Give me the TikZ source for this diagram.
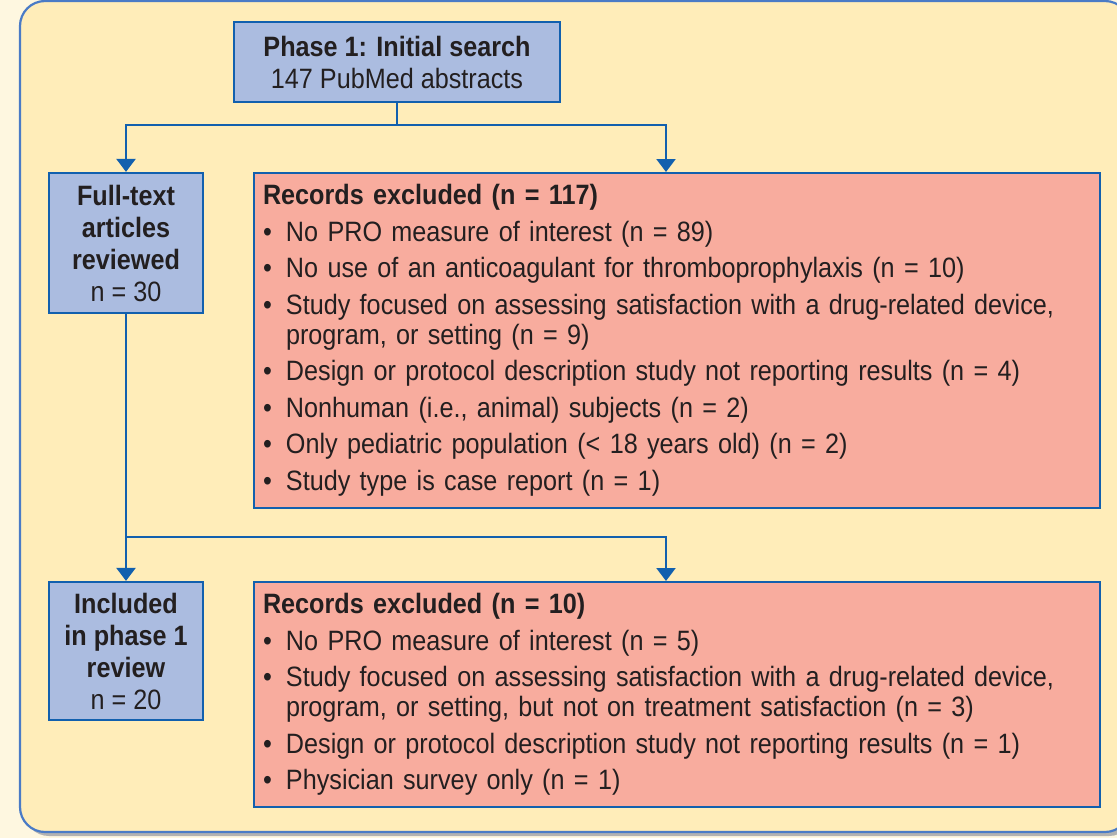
\documentclass[tikz,border=0pt]{standalone}
\usepackage{fontspec}
\setmainfont{Liberation Sans}[FakeStretch=0.9]
\usetikzlibrary{arrows.meta}
\definecolor{pagebg}{HTML}{FEF7E0}
\definecolor{outerfill}{HTML}{FFEDB9}
\definecolor{framecol}{HTML}{4A7BC6}
\definecolor{boxblue}{HTML}{ABBCE0}
\definecolor{lineblue}{HTML}{1260AE}
\definecolor{boxred}{HTML}{F8AC9E}
\definecolor{txt}{HTML}{231F20}
\newcommand\bitem[1]{\par\hangindent=23pt\hangafter=1\noindent\makebox[23pt][l]{\textbullet}#1}
\newcommand\redsetup{\raggedright\hyphenpenalty=10000\exhyphenpenalty=10000\setlength{\parskip}{6.5pt}}
\tikzset{
  x=1pt, y=-1pt,
  bluebox/.style={draw=lineblue, fill=boxblue, line width=2.2pt, inner sep=0pt, align=center, text=txt,
    font=\fontsize{28}{32}\selectfont},
  redbox/.style={draw=lineblue, fill=boxred, line width=2.2pt, inner xsep=8pt, inner ysep=0pt,
    minimum width=846pt, text width=828pt, align=left, text=txt,
    font=\fontsize{28}{30}\selectfont},
  conn/.style={draw=lineblue, line width=2.2pt},
  arr/.style={conn, -{Triangle[width=19pt,length=13pt]}}
}
\begin{document}
\begin{tikzpicture}
\useasboundingbox (0,0) rectangle (1117,838);
\fill[pagebg] (0,0) rectangle (1117,838);
\fill[gray!60, rounded corners=25pt] (24,6) rectangle (1134,836);
\draw[rounded corners=25pt, fill=outerfill, draw=framecol, line width=2.2pt] (20,1) rectangle (1130,832);

\node[bluebox, minimum width=326pt, minimum height=80pt] (top) at (397,62)
  {\textbf{Phase 1: Initial search}\\147 PubMed abstracts};
\node[bluebox, minimum width=154pt, minimum height=140pt] (full) at (126,243)
  {\textbf{Full-text}\\\textbf{articles}\\\textbf{reviewed}\\n = 30};
\node[bluebox, minimum width=154pt, minimum height=138pt] (incl) at (126,651)
  {\textbf{Included}\\\textbf{in phase 1}\\\textbf{review}\\n = 20};

\node[redbox, minimum height=335pt] (rec1) at (677,340.5) {\redsetup
\noindent\textbf{Records excluded (n = 117)}
\bitem{No PRO measure of interest (n = 89)}
\bitem{No use of an anticoagulant for thromboprophylaxis (n = 10)}
\bitem{Study focused on assessing satisfaction with a drug-related device,\newline program, or setting (n = 9)}
\bitem{Design or protocol description study not reporting results (n = 4)}
\bitem{Nonhuman (i.e., animal) subjects (n = 2)}
\bitem{Only pediatric population (< 18 years old) (n = 2)}
\bitem{Study type is case report (n = 1)}\par};

\node[redbox, minimum height=225pt] (rec2) at (677,694.5) {\redsetup
\noindent\textbf{Records excluded (n = 10)}
\bitem{No PRO measure of interest (n = 5)}
\bitem{Study focused on assessing satisfaction with a drug-related device,\newline program, or setting, but not on treatment satisfaction (n = 3)}
\bitem{Design or protocol description study not reporting results (n = 1)}
\bitem{Physician survey only (n = 1)}\par};

\coordinate (j1) at (397,125);
\coordinate (t1) at (666,172);
\coordinate (j2) at (126,537);
\coordinate (t2) at (666,581);

\draw[conn] (top.south) -- (j1);
\draw[arr] (j1) -| (full.north);
\draw[arr] (j1) -| (t1);
\draw[arr] (full.south) -- (incl.north);
\draw[arr] (j2) -| (t2);
\end{tikzpicture}
\end{document}
